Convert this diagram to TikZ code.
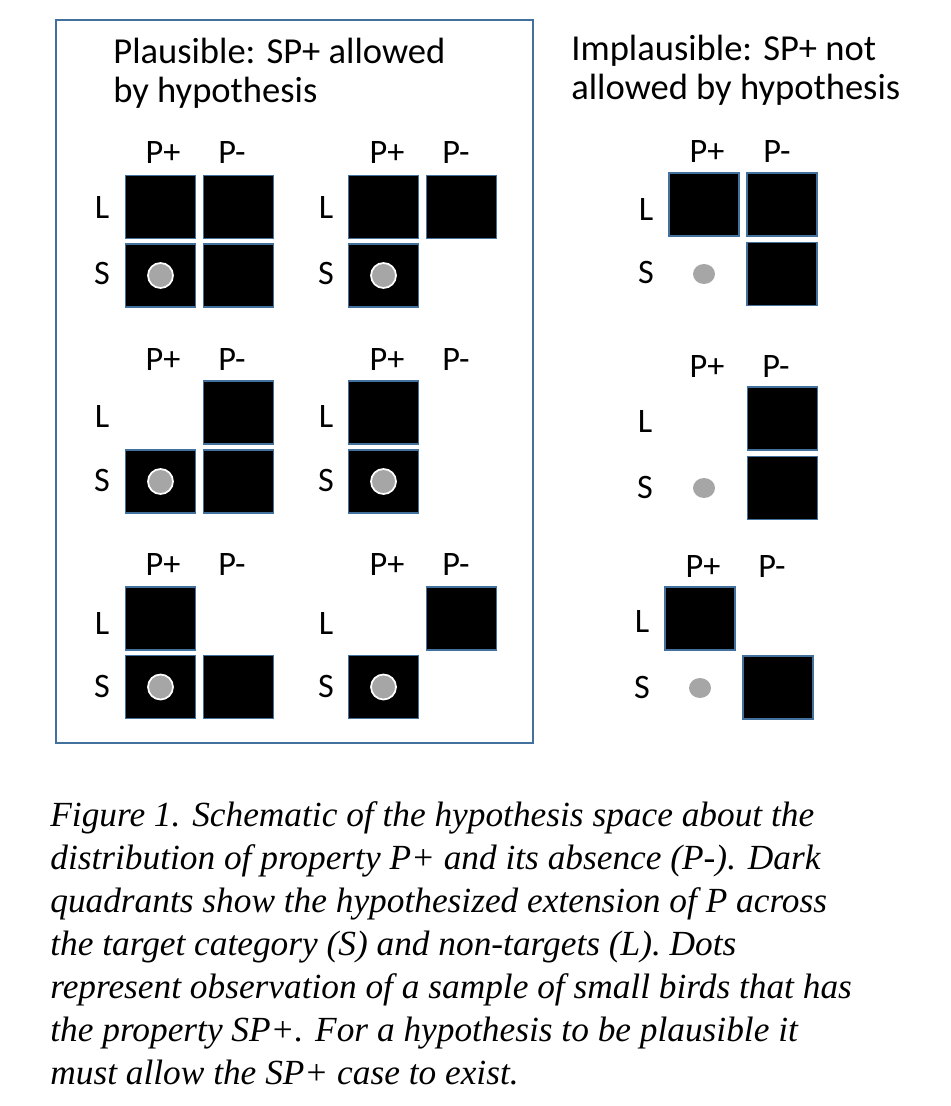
\documentclass[tikz,border=0pt]{standalone}
\usepackage{fontspec}
\setmainfont{Liberation Serif}
\newfontfamily\calibri{Carlito}
\usepackage{xcolor}
\usepackage{tikz}
\usetikzlibrary{shapes}
\tikzstyle{quad} = [rectangle, draw=bframe, line width=0.9pt, fill=black, minimum width=1.4cm, minimum height=1.26cm, inner sep=0pt]
\tikzstyle{obsdot} = [circle, draw=white, line width=1pt, fill=dotgray, minimum size=0.5cm, inner sep=0pt]
\tikzstyle{lonedot} = [ellipse, fill=dotgray, minimum width=0.44cm, minimum height=0.4cm, inner sep=0pt]
\tikzstyle{axislabel} = [font=\calibri\fontsize{19.5}{22}\selectfont, inner sep=0pt]
\tikzstyle{title} = [font=\calibri\fontsize{20.8}{22.2}\selectfont, align=left, inner sep=0pt, anchor=north west]
\tikzstyle{frame} = [line width=1.2pt, draw=bframe]
\definecolor{bframe}{HTML}{41719C}
\definecolor{dotgray}{HTML}{A6A6A6}

\begin{document}
\begin{tikzpicture}
    \useasboundingbox (0, 0) rectangle (19, -22.12);
    
    \draw[frame] (1.12, -0.40) rectangle (10.66, -14.86);
    \node[title] at (2.26, -0.76) (plausible) {Plausible: SP+ allowed\\by hypothesis};
    \node[title] at (11.42, -0.70) (implausible) {Implausible: SP+ not\\allowed by hypothesis};
    
    % plausible, row 1
    \node[axislabel] at (3.26, -3.06) (p1plus) {P+};
    \node[axislabel] at (4.64, -3.06) (p1minus) {P-};
    \node[axislabel] at (2.04, -4.16) (p1L) {L};
    \node[axislabel] at (2.04, -5.46) (p1S) {S};
    \node[quad] at (3.21, -4.14) (p1LP) {};
    \node[quad] at (4.77, -4.14) (p1LM) {};
    \node[quad] at (3.21, -5.51) (p1SP) {};
    \node[quad] at (4.77, -5.51) (p1SM) {};
    \node[obsdot] at (p1SP) (p1dot) {};
    
    \node[axislabel] at (7.74, -3.06) (q1plus) {P+};
    \node[axislabel] at (9.12, -3.06) (q1minus) {P-};
    \node[axislabel] at (6.52, -4.16) (q1L) {L};
    \node[axislabel] at (6.52, -5.46) (q1S) {S};
    \node[quad] at (7.67, -4.14) (q1LP) {};
    \node[quad] at (9.23, -4.14) (q1LM) {};
    \node[quad] at (7.67, -5.51) (q1SP) {};
    \node[obsdot] at (q1SP) (q1dot) {};
    
    % plausible, row 2
    \node[axislabel] at (3.26, -7.20) (p2plus) {P+};
    \node[axislabel] at (4.64, -7.20) (p2minus) {P-};
    \node[axislabel] at (2.04, -8.34) (p2L) {L};
    \node[axislabel] at (2.04, -9.60) (p2S) {S};
    \node[quad] at (4.77, -8.25) (p2LM) {};
    \node[quad] at (3.21, -9.63) (p2SP) {};
    \node[quad] at (4.77, -9.63) (p2SM) {};
    \node[obsdot] at (p2SP) (p2dot) {};
    
    \node[axislabel] at (7.74, -7.20) (q2plus) {P+};
    \node[axislabel] at (9.12, -7.20) (q2minus) {P-};
    \node[axislabel] at (6.52, -8.34) (q2L) {L};
    \node[axislabel] at (6.52, -9.60) (q2S) {S};
    \node[quad] at (7.67, -8.25) (q2LP) {};
    \node[quad] at (7.67, -9.63) (q2SP) {};
    \node[obsdot] at (q2SP) (q2dot) {};
    
    % plausible, row 3
    \node[axislabel] at (3.26, -11.30) (p3plus) {P+};
    \node[axislabel] at (4.64, -11.30) (p3minus) {P-};
    \node[axislabel] at (2.04, -12.46) (p3L) {L};
    \node[axislabel] at (2.04, -13.72) (p3S) {S};
    \node[quad] at (3.21, -12.37) (p3LP) {};
    \node[quad] at (3.21, -13.74) (p3SP) {};
    \node[quad] at (4.77, -13.74) (p3SM) {};
    \node[obsdot] at (p3SP) (p3dot) {};
    
    \node[axislabel] at (7.74, -11.30) (q3plus) {P+};
    \node[axislabel] at (9.12, -11.30) (q3minus) {P-};
    \node[axislabel] at (6.52, -12.46) (q3L) {L};
    \node[axislabel] at (6.52, -13.72) (q3S) {S};
    \node[quad] at (9.23, -12.37) (q3LM) {};
    \node[quad] at (7.67, -13.74) (q3SP) {};
    \node[obsdot] at (q3SP) (q3dot) {};
    
    % implausible
    \node[axislabel] at (14.14, -3.04) (i1plus) {P+};
    \node[axislabel] at (15.54, -3.04) (i1minus) {P-};
    \node[axislabel] at (12.92, -4.20) (i1L) {L};
    \node[axislabel] at (12.92, -5.44) (i1S) {S};
    \node[quad] at (14.08, -4.09) (i1LP) {};
    \node[quad] at (15.64, -4.09) (i1LM) {};
    \node[quad] at (15.64, -5.48) (i1SM) {};
    \node[lonedot] at (14.08, -5.48) (i1dot) {};
    
    \node[axislabel] at (14.14, -7.34) (i2plus) {P+};
    \node[axislabel] at (15.52, -7.34) (i2minus) {P-};
    \node[axislabel] at (12.90, -8.44) (i2L) {L};
    \node[axislabel] at (12.90, -9.74) (i2S) {S};
    \node[quad] at (15.65, -8.37) (i2LM) {};
    \node[quad] at (15.65, -9.76) (i2SM) {};
    \node[lonedot] at (14.08, -9.76) (i2dot) {};
    
    \node[axislabel] at (14.06, -11.34) (i3plus) {P+};
    \node[axislabel] at (15.44, -11.34) (i3minus) {P-};
    \node[axislabel] at (12.84, -12.44) (i3L) {L};
    \node[axislabel] at (12.84, -13.74) (i3S) {S};
    \node[quad] at (14.00, -12.37) (i3LP) {};
    \node[quad] at (15.56, -13.75) (i3SM) {};
    \node[lonedot] at (14.00, -13.76) (i3dot) {};
    
    % caption
    \node[anchor=north west, align=left, inner sep=0pt, font=\itshape\fontsize{20.1}{24.5}\selectfont] at (1.0, -16.02) (caption) {Figure 1. Schematic of the hypothesis space about the\\distribution of property P+ and its absence (P-). Dark\\quadrants show the hypothesized extension of P across\\the target category (S) and non-targets (L). Dots\\represent observation of a sample of small birds that has\\the property SP+. For a hypothesis to be plausible it\\must allow the SP+ case to exist.};
    
\end{tikzpicture}
\end{document}
